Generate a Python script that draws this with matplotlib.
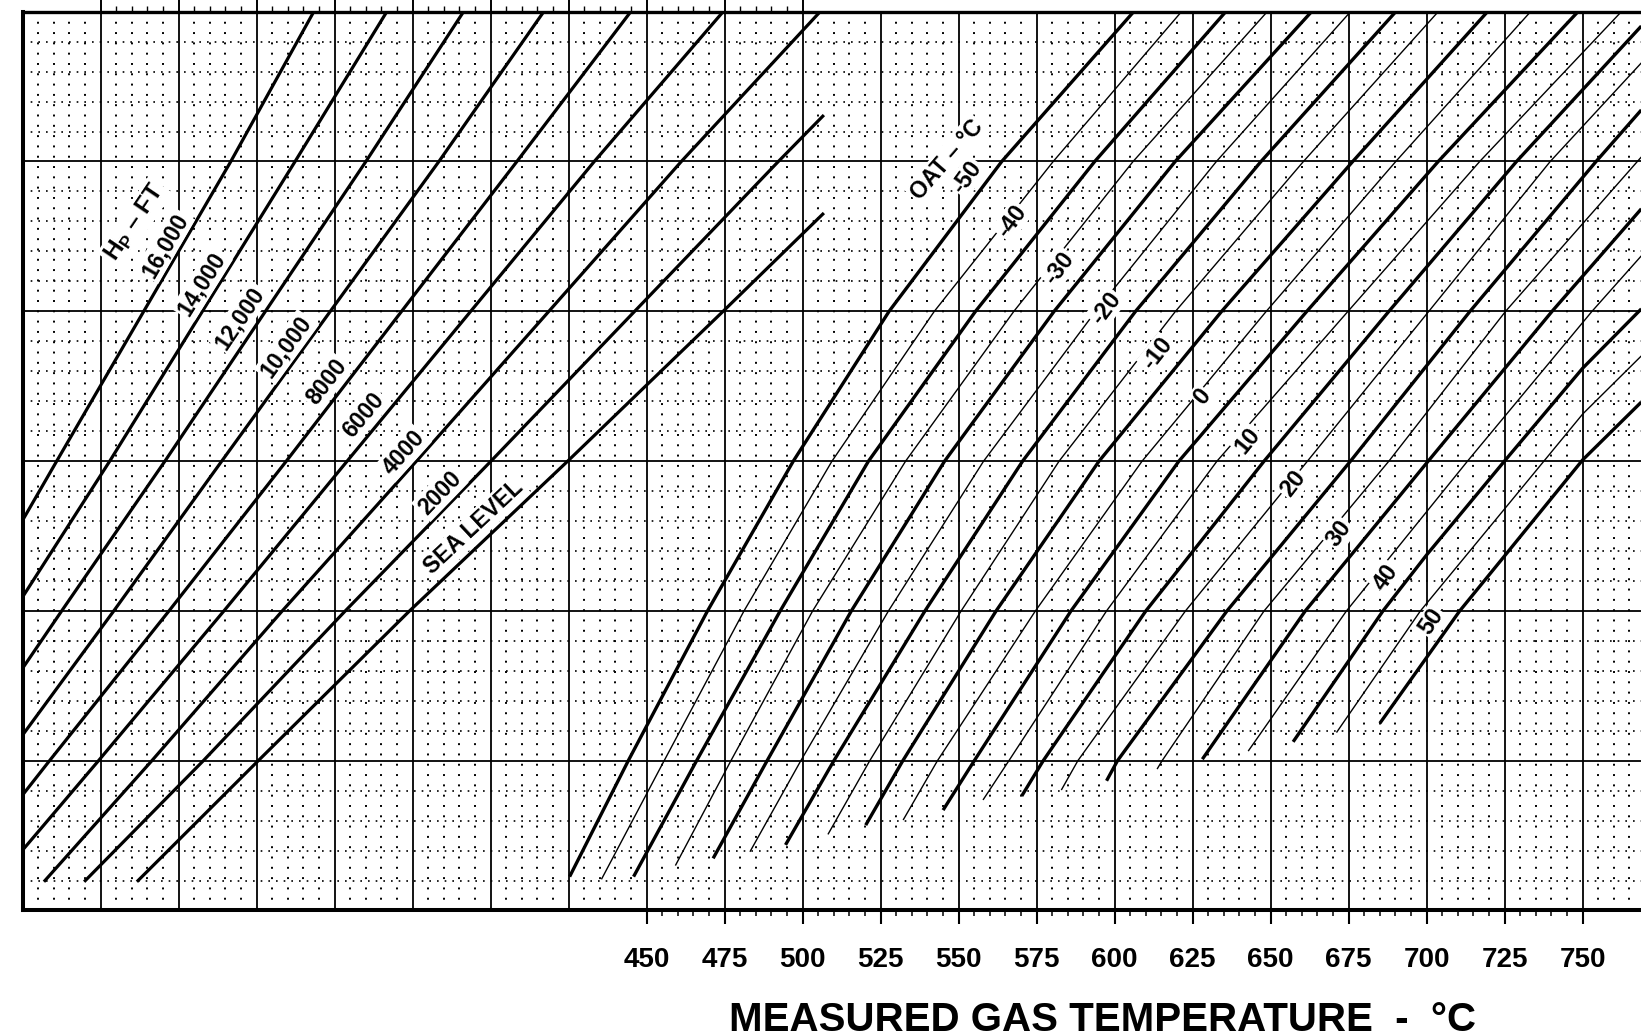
import matplotlib
matplotlib.use("Agg")
import matplotlib.pyplot as plt
from matplotlib.ticker import NullFormatter

plt.rcParams["font.family"] = ["Liberation Sans", "DejaVu Sans"]
plt.rcParams["mathtext.fontset"] = "custom"
plt.rcParams["mathtext.bf"] = "Liberation Sans:bold"
plt.rcParams["mathtext.rm"] = "Liberation Sans"

# ---- values ----
# x: measured gas temperature scale (deg C); y: reference line units (0-30, major row every 5)
ALT_NAMES = ["16,000", "14,000", "12,000", "10,000", "8000", "6000", "4000", "2000", "SEA LEVEL"]
ALT_X = [
    [250.0, 260.9, 316.7, 343.3],
    [250.0, 277.9, 337.3, 366.7],
    [250.0, 262.5, 295.6, 360.0, 391.3],
    [250.0, 279.2, 313.8, 383.4, 417.0],
    [250.0, 258.6, 296.9, 334.5, 408.4, 444.9],
    [250.0, 274.3, 314.5, 354.0, 433.2, 474.5],
    [256.8, 291.4, 333.2, 376.2, 461.1, 505.6],
    [269.7, 307.9, 353.4, 400.1, 492.2, 506.8],
    [286.6, 325.5, 374.0, 424.7, 474.5, 506.8],
]
ALT_Y = [
    [13.03, 15, 25, 30],
    [10.47, 15, 25, 30],
    [8.09, 10, 15, 25, 30],
    [5.86, 10, 15, 25, 30],
    [3.86, 5, 10, 15, 25, 30],
    [2.02, 5, 10, 15, 25, 30],
    [0.96, 5, 10, 15, 25, 30],
    [0.96, 5, 10, 15, 25, 26.55],
    [0.96, 5, 10, 15, 20, 23.28],
]

OAT_VALUES = list(range(-50, 51, 5))
OAT_X = [
    [425.3, 444.1, 469.5, 497.0, 527.7, 563.8, 606.1],
    [435.5, 455.6, 481.2, 509.4, 542.2, 580.3, 621.4],
    [445.8, 466.0, 492.8, 521.1, 555.4, 593.6, 635.6],
    [459.2, 477.0, 503.2, 533.0, 567.7, 605.9, 648.9],
    [471.3, 488.6, 515.6, 545.5, 580.6, 619.4, 663.1],
    [483.1, 499.4, 527.5, 558.0, 593.9, 632.6, 675.6],
    [494.5, 510.0, 539.2, 570.5, 606.7, 646.9, 690.1],
    [508.1, 521.5, 550.8, 582.2, 619.5, 660.5, 703.7],
    [520.2, 532.1, 562.0, 595.0, 634.3, 676.3, 719.5],
    [532.2, 543.2, 574.6, 608.8, 648.6, 690.1, 733.3],
    [545.0, 555.0, 586.0, 620.6, 661.6, 703.7, 748.5],
    [557.8, 566.1, 597.4, 632.8, 674.8, 717.0, 762.4],
    [570.2, 577.1, 610.0, 647.9, 687.9, 728.8, 768.8],
    [582.9, 588.2, 622.7, 661.8, 700.7, 739.6, 768.8],
    [597.4, 600.9, 636.0, 675.6, 713.9, 754.3, 768.8],
    [613.6, 615.2, 647.9, 687.9, 725.3, 768.8],
    [628.1, 661.1, 700.5, 740.2, 768.8],
    [642.8, 674.3, 713.1, 753.0, 768.8],
    [657.2, 686.0, 700.0, 724.7, 750.0, 768.8],
    [671.1, 698.0, 724.7, 750.0, 768.8],
    [685.0, 710.6, 724.7, 750.0, 768.8],
]
OAT_Y = [
    [1.13, 5, 10, 15, 20, 25, 30],
    [1.04, 5, 10, 15, 20, 25, 30],
    [1.13, 5, 10, 15, 20, 25, 30],
    [1.50, 5, 10, 15, 20, 25, 30],
    [1.74, 5, 10, 15, 20, 25, 30],
    [1.96, 5, 10, 15, 20, 25, 30],
    [2.19, 5, 10, 15, 20, 25, 30],
    [2.54, 5, 10, 15, 20, 25, 30],
    [2.85, 5, 10, 15, 20, 25, 30],
    [3.02, 5, 10, 15, 20, 25, 30],
    [3.35, 5, 10, 15, 20, 25, 30],
    [3.69, 5, 10, 15, 20, 25, 30],
    [3.82, 5, 10, 15, 20, 25, 29.52],
    [4.02, 5, 10, 15, 20, 25, 28.29],
    [4.33, 5, 10, 15, 20, 25, 26.72],
    [4.72, 5, 10, 15, 20, 25.15],
    [5.05, 10, 15, 20, 23.42],
    [5.32, 10, 15, 20, 21.85],
    [5.63, 10, 11.87, 14.97, 18.10, 20.08],
    [5.94, 10, 13.37, 16.57, 18.51],
    [6.25, 10, 11.80, 15.04, 16.97],
]

TEMP_TICKS = list(range(450, 751, 25))

# label placement (layout, not data)
ALT_LBL_X = [295.6, 307.4, 319.6, 334.5, 347.4, 359.4, 372.1, 383.7, 394.7]
ALT_LBL_Y = [22.21, 20.91, 19.78, 18.81, 17.64, 16.54, 15.27, 13.94, 12.80]
ALT_LBL_ROT = [60, 58, 56, 54, 52, 50, 48, 46, 43]
OAT_LBL_X = [552.7, 567.0, 582.3, 597.2, 613.7, 628.2, 642.6, 657.2, 672.0, 687.0, 701.6]
OAT_LBL_Y = [24.48, 23.01, 21.44, 20.11, 18.58, 17.14, 15.67, 14.24, 12.57, 11.13, 9.63]
OAT_LBL_ROT = [54, 54, 53, 53, 52, 51, 51, 52, 54, 55, 56]

XMIN, XMAX = 250, 768.7

fig = plt.figure(figsize=(16.41, 10.36), dpi=100)
ax = fig.add_axes([0.01383, 0.12114, 0.98617, 0.86757])
ax.set_xlim(XMIN, XMAX)
ax.set_ylim(0, 30)

# dotted minor grid + solid major grid
minor_x = [v for v in range(255, 770, 5) if v % 25]
minor_y = [v for v in range(1, 30) if v % 5]
ax.vlines(minor_x, 0, 30, colors="k", linewidth=1.4, linestyles=[(0, (1, 4.3))], zorder=1)
ax.hlines(minor_y, XMIN, XMAX, colors="k", linewidth=1.2, linestyles=[(0, (1, 3.6))], zorder=1)
ax.vlines(range(275, 770, 25), 0, 30, colors="k", linewidth=1.3, zorder=1.5)
ax.hlines(range(5, 30, 5), XMIN, XMAX, colors="k", linewidth=1.3, zorder=1.5)

# pressure altitude lines
for xs, ys in zip(ALT_X, ALT_Y):
    ax.plot(xs, ys, color="k", lw=2.3, solid_capstyle="butt", zorder=3)

# OAT lines: every 10 deg heavy, the 5s light
for v, xs, ys in zip(OAT_VALUES, OAT_X, OAT_Y):
    ax.plot(xs, ys, color="k", lw=2.4 if v % 10 == 0 else 1.0, solid_capstyle="butt", zorder=3)

def lbl(size, pad=1.5):
    return dict(rotation_mode="anchor", ha="center", va="center", fontsize=size,
                fontweight="bold", bbox=dict(facecolor="white", edgecolor="none", pad=pad),
                zorder=5)

for t, x, y, r in zip(ALT_NAMES, ALT_LBL_X, ALT_LBL_Y, ALT_LBL_ROT):
    ax.text(x, y, t, rotation=r, **lbl(16.5))
ax.text(285.9, 22.95, r"H$_\mathbf{P}$ – FT", rotation=56, **lbl(17.5))
ax.text(546.3, 25.05, "OAT – °C", rotation=49, **lbl(16.5))
for v, x, y, r in zip(OAT_VALUES[::2], OAT_LBL_X, OAT_LBL_Y, OAT_LBL_ROT):
    ax.text(x, y, str(v), rotation=r, **lbl(17, pad=1.0))

# bottom scale
ax.set_xticks(TEMP_TICKS)
ax.set_xticklabels([str(v) for v in TEMP_TICKS], fontsize=20, fontweight="bold")
ax.set_xticks([v for v in range(450, 751, 5) if v % 25], minor=True)
ax.tick_params(axis="x", which="major", direction="out", length=10, width=1.5, pad=16)
ax.tick_params(axis="x", which="minor", direction="out", length=4.5, width=1.1)
ax.set_yticks([])

# top tick strip
sec = ax.secondary_xaxis("top")
sec.set_ticks(list(range(275, 501, 25)))
sec.set_ticks([v for v in range(275, 501, 5) if v % 25], minor=True)
sec.xaxis.set_major_formatter(NullFormatter())
sec.tick_params(which="major", direction="out", length=9, width=1.4)
sec.tick_params(which="minor", direction="out", length=4.3, width=1.0)
for s in sec.spines.values():
    s.set_visible(False)

ax.spines["right"].set_visible(False)
ax.spines["left"].set_linewidth(2.9)
ax.spines["bottom"].set_linewidth(2.9)
ax.spines["top"].set_linewidth(2.4)

fig.text(0.6719, 0.0048, "MEASURED GAS TEMPERATURE  -  °C", ha="center", va="baseline",
         fontsize=29, fontweight="bold")

fig.savefig("out.png", dpi=100)
